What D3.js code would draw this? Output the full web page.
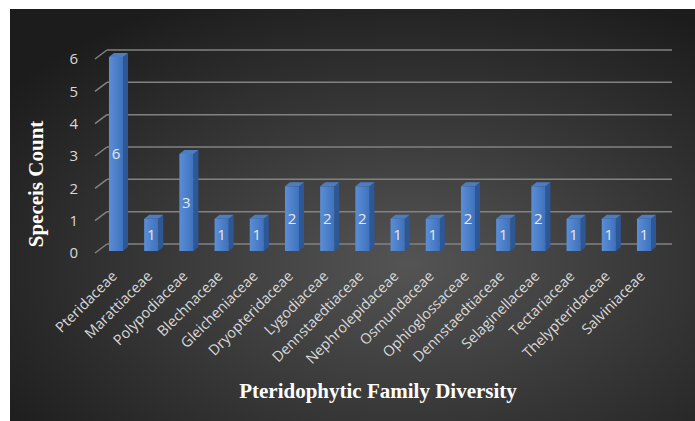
<!DOCTYPE html>
<meta charset="utf-8">
<html>
<head>
  <style>
    body { margin: 0; background: #fff; }
    svg { display: block; }
  </style>
  <script src="https://d3js.org/d3.v7.min.js"></script>
</head>
<body>
  <svg width="695" height="421"></svg>
  <script>
    // family names and species counts
    var families = ["Pteridaceae", "Marattiaceae", "Polypodiaceae", "Blechnaceae",
      "Gleicheniaceae", "Dryopteridaceae", "Lygodiaceae", "Dennstaedtiaceae",
      "Nephrolepidaceae", "Osmundaceae", "Ophioglossaceae", "Dennstaedtiaceae ",
      "Selaginellaceae", "Tectariaceae", "Thelypteridaceae", "Salviniaceae"];
    var counts = [6, 1, 3, 1, 1, 2, 2, 2, 1, 1, 2, 1, 2, 1, 1, 1];
    var yTicks = [0, 1, 2, 3, 4, 5, 6];

    var svg = d3.select("svg");
    var defs = svg.append("defs");

    // dark radial background
    var bg = defs.append("radialGradient").attr("id", "bg")
      .attr("cx", "58%").attr("cy", "62%").attr("r", "72%");
    bg.append("stop").attr("offset", "0%").attr("stop-color", "#545454");
    bg.append("stop").attr("offset", "100%").attr("stop-color", "#1c1c1c");

    var face = defs.append("linearGradient").attr("id", "face")
      .attr("x1", "0").attr("x2", "1").attr("y1", "0").attr("y2", "0");
    face.append("stop").attr("offset", "0%").attr("stop-color", "#5b8ed6");
    face.append("stop").attr("offset", "100%").attr("stop-color", "#3f72bd");

    svg.append("rect")
      .attr("x", 10).attr("y", 9)
      .attr("width", 685).attr("height", 412)
      .attr("fill", "url(#bg)");

    var x = d3.scaleBand()
      .domain(families)
      .range([98.4, 661.6])
      .paddingInner(0.6)
      .paddingOuter(0.3);

    var y = d3.scaleLinear().domain([0, 6]).range([251, 57]);

    // 3d offsets
    var wallDx = 12, wallDy = 9;   // floor depth
    var barDx = 5, barDy = 4;      // bar depth

    var wallX0 = 107, wallX1 = 672;

    // gridlines on the back wall plus the slanted left edge
    var grid = svg.append("g").attr("stroke", "#828282").attr("stroke-width", 1.5);
    grid.selectAll(".back").data(yTicks).enter().append("line")
      .attr("x1", wallX0).attr("x2", wallX1)
      .attr("y1", function(d) { return y(d) + 2 - wallDy; })
      .attr("y2", function(d) { return y(d) + 2 - wallDy; });
    grid.selectAll(".side").data(yTicks).enter().append("line")
      .attr("x1", wallX0 - wallDx).attr("x2", wallX0)
      .attr("y1", function(d) { return y(d) + 2; })
      .attr("y2", function(d) { return y(d) + 2 - wallDy; });

    // y tick labels
    svg.append("g").selectAll("text").data(yTicks).enter().append("text")
      .attr("x", 78).attr("y", function(d) { return y(d) + 2; })
      .attr("dy", "0.35em")
      .attr("text-anchor", "end")
      .attr("fill", "#d9d9d9")
      .style("font", "15px 'Open Sans', sans-serif")
      .text(function(d) { return d; });

    // bars
    var bar = svg.append("g").selectAll("g").data(counts).enter().append("g")
      .attr("transform", function(d, i) { return "translate(" + x(families[i]) + ",0)"; });

    var w = x.bandwidth();
    bar.append("path")
      .attr("fill", "#2d5895")
      .attr("d", function(d) {
        return "M" + w + "," + y(d) + "l" + barDx + "," + (-barDy) +
          "L" + (w + barDx) + "," + (y(0) - barDy) + "L" + w + "," + y(0) + "Z";
      });
    bar.append("path")
      .attr("fill", "#4d7cc0")
      .attr("d", function(d) {
        return "M0," + y(d) + "l" + barDx + "," + (-barDy) + "h" + w +
          "l" + (-barDx) + "," + barDy + "Z";
      });
    bar.append("rect")
      .attr("x", 0).attr("width", w)
      .attr("y", function(d) { return y(d); })
      .attr("height", function(d) { return y(0) - y(d); })
      .attr("fill", "url(#face)");

    bar.append("text")
      .attr("x", w / 2)
      .attr("y", function(d) { return (y(d) + y(0)) / 2; })
      .attr("dy", "0.35em")
      .attr("text-anchor", "middle")
      .attr("fill", "#e8e8e8")
      .style("font", "15px 'Open Sans', sans-serif")
      .text(function(d) { return d; });

    // rotated category labels
    svg.append("g").selectAll("text").data(families).enter().append("text")
      .attr("transform", function(d) {
        return "translate(" + (x(d) + w / 2 + 2) + ",277) rotate(-45)";
      })
      .attr("text-anchor", "end")
      .attr("fill", "#d9d9d9")
      .style("font", "14.5px 'Open Sans', sans-serif")
      .text(function(d) { return d.trim(); });

    // axis titles
    svg.append("text")
      .attr("transform", "translate(43,184) rotate(-90)")
      .attr("text-anchor", "middle")
      .attr("fill", "#ffffff")
      .style("font", "bold 21px 'Liberation Serif', serif")
      .text("Speceis Count");

    svg.append("text")
      .attr("x", 378).attr("y", 398)
      .attr("text-anchor", "middle")
      .attr("fill", "#ffffff")
      .style("font", "bold 21px 'Liberation Serif', serif")
      .text("Pteridophytic Family Diversity");
  </script>
</body>
</html>
